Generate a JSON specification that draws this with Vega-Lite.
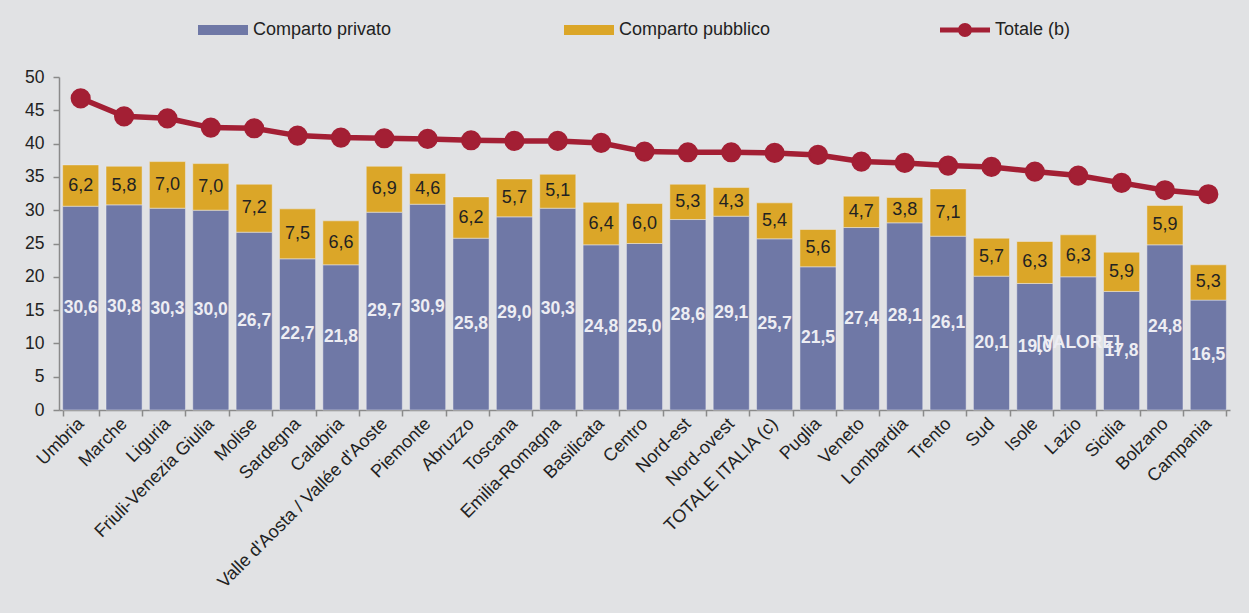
{
  "$schema": "https://vega.github.io/schema/vega-lite/v6.json",
  "width": 1171,
  "height": 333,
  "autosize": {"type": "none"},
  "padding": {"left": 59, "top": 77, "right": 19, "bottom": 203},
  "background": "#e1e2e4",
  "config": {
    "view": {"stroke": null},
    "font": "Liberation Sans",
    "locale": {"number": {"decimal": ",", "thousands": ".", "grouping": [3], "currency": ["", " €"]}},
    "axisY": {
      "title": null,
      "values": [0, 5, 10, 15, 20, 25, 30, 35, 40, 45, 50],
      "labelOverlap": false,
      "grid": false,
      "labelFontSize": 17.5,
      "labelColor": "#222222",
      "labelPadding": 9,
      "domainColor": "#8a8a8a",
      "domainWidth": 1.5,
      "tickColor": "#8a8a8a",
      "tickWidth": 1.5,
      "tickSize": 6
    },
    "legend": {"labelFontSize": 18, "labelColor": "#222222", "labelOffset": 5, "labelLimit": 300, "symbolSize": 2500, "symbolStrokeWidth": 0, "symbolOpacity": 1, "direction": "horizontal", "orient": "none"}
  },
  "data": {
    "values": [
      {"region": "Umbria", "privato": 30.6, "pubblico": 6.2, "totale": 46.8},
      {"region": "Marche", "privato": 30.8, "pubblico": 5.8, "totale": 44.1},
      {"region": "Liguria", "privato": 30.3, "pubblico": 7.0, "totale": 43.8},
      {"region": "Friuli-Venezia Giulia", "privato": 30.0, "pubblico": 7.0, "totale": 42.4},
      {"region": "Molise", "privato": 26.7, "pubblico": 7.2, "totale": 42.3},
      {"region": "Sardegna", "privato": 22.7, "pubblico": 7.5, "totale": 41.2},
      {"region": "Calabria", "privato": 21.8, "pubblico": 6.6, "totale": 40.9},
      {"region": "Valle d'Aosta / Vallée d'Aoste", "privato": 29.7, "pubblico": 6.9, "totale": 40.8},
      {"region": "Piemonte", "privato": 30.9, "pubblico": 4.6, "totale": 40.7},
      {"region": "Abruzzo", "privato": 25.8, "pubblico": 6.2, "totale": 40.5},
      {"region": "Toscana", "privato": 29.0, "pubblico": 5.7, "totale": 40.4},
      {"region": "Emilia-Romagna", "privato": 30.3, "pubblico": 5.1, "totale": 40.4},
      {"region": "Basilicata", "privato": 24.8, "pubblico": 6.4, "totale": 40.1},
      {"region": "Centro", "privato": 25.0, "pubblico": 6.0, "totale": 38.8},
      {"region": "Nord-est", "privato": 28.6, "pubblico": 5.3, "totale": 38.7},
      {"region": "Nord-ovest", "privato": 29.1, "pubblico": 4.3, "totale": 38.7},
      {"region": "TOTALE ITALIA (c)", "privato": 25.7, "pubblico": 5.4, "totale": 38.6},
      {"region": "Puglia", "privato": 21.5, "pubblico": 5.6, "totale": 38.3},
      {"region": "Veneto", "privato": 27.4, "pubblico": 4.7, "totale": 37.3},
      {"region": "Lombardia", "privato": 28.1, "pubblico": 3.8, "totale": 37.1},
      {"region": "Trento", "privato": 26.1, "pubblico": 7.1, "totale": 36.7},
      {"region": "Sud", "privato": 20.1, "pubblico": 5.7, "totale": 36.5},
      {"region": "Isole", "privato": 19.0, "pubblico": 6.3, "totale": 35.8},
      {"region": "Lazio", "privato": 20.0, "pubblico": 6.3, "totale": 35.2},
      {"region": "Sicilia", "privato": 17.8, "pubblico": 5.9, "totale": 34.1},
      {"region": "Bolzano", "privato": 24.8, "pubblico": 5.9, "totale": 33.0},
      {"region": "Campania", "privato": 16.5, "pubblico": 5.3, "totale": 32.4}
    ]
  },
  "encoding": {
    "x": {
      "field": "region",
      "type": "nominal",
      "sort": ["Umbria", "Marche", "Liguria", "Friuli-Venezia Giulia", "Molise", "Sardegna", "Calabria", "Valle d'Aosta / Vallée d'Aoste", "Piemonte", "Abruzzo", "Toscana", "Emilia-Romagna", "Basilicata", "Centro", "Nord-est", "Nord-ovest", "TOTALE ITALIA (c)", "Puglia", "Veneto", "Lombardia", "Trento", "Sud", "Isole", "Lazio", "Sicilia", "Bolzano", "Campania"],
      "scale": {"paddingInner": 0.168, "paddingOuter": 0.084},
      "axis": {
        "title": null,
        "labelAngle": -45,
        "labelAlign": "right",
        "labelBaseline": "middle",
        "labelFontSize": 18,
        "labelColor": "#222222",
        "labelPadding": 5,
        "labelLimit": 400,
        "domainColor": "#8a8a8a",
        "domainWidth": 1.5,
        "tickColor": "#8a8a8a",
        "tickWidth": 1.5,
        "tickSize": 6,
        "tickBand": "extent"
      }
    }
  },
  "layer": [
    {
      "transform": [{"fold": ["privato", "pubblico"], "as": ["key", "value"]}],
      "mark": {"type": "bar", "stroke": "#ececf0", "strokeWidth": 0.8, "strokeOpacity": 0.6},
      "encoding": {
        "y": {
          "field": "value",
          "type": "quantitative",
          "stack": "zero",
          "scale": {"domain": [0, 50], "nice": false},
          "axis": {"values": [0, 5, 10, 15, 20, 25, 30, 35, 40, 45, 50], "labelOverlap": false, "tickCount": 11}
        },
        "order": {"field": "key", "type": "nominal", "sort": "ascending"},
        "color": {
          "field": "key",
          "type": "nominal",
          "scale": {"domain": ["privato", "pubblico"], "range": ["#6f78a6", "#dba628"]},
          "legend": {
            "legendX": 139,
            "legendY": -72,
            "title": null,
            "symbolType": "M-1,-0.2H1V0.2H-1Z",
            "columnPadding": 172,
            "labelExpr": "datum.value === 'privato' ? 'Comparto privato' : 'Comparto pubblico'"
          }
        }
      }
    },
    {
      "transform": [{"fold": ["privato", "pubblico"], "as": ["key", "value"]}],
      "mark": {"type": "text", "fontSize": 17.5, "fontWeight": "bold", "color": "#ededf3"},
      "encoding": {
        "y": {"field": "value", "type": "quantitative", "stack": "zero", "bandPosition": 0.5, "axis": {"values": [0, 5, 10, 15, 20, 25, 30, 35, 40, 45, 50], "labelOverlap": false, "tickCount": 11}},
        "detail": {"field": "key"},
        "order": {"field": "key", "type": "nominal", "sort": "ascending"},
        "text": {
          "condition": {"test": "datum.region === 'Lazio'", "value": "[VALORE]"},
          "field": "value",
          "type": "quantitative",
          "format": ".1f"
        },
        "opacity": {"condition": {"test": "datum.key === 'privato'", "value": 1}, "value": 0}
      }
    },
    {
      "transform": [{"fold": ["privato", "pubblico"], "as": ["key", "value"]}],
      "mark": {"type": "text", "fontSize": 18, "color": "#222222"},
      "encoding": {
        "y": {"field": "value", "type": "quantitative", "stack": "zero", "bandPosition": 0.5, "axis": {"values": [0, 5, 10, 15, 20, 25, 30, 35, 40, 45, 50], "labelOverlap": false, "tickCount": 11}},
        "detail": {"field": "key"},
        "order": {"field": "key", "type": "nominal", "sort": "ascending"},
        "text": {"field": "value", "type": "quantitative", "format": ".1f"},
        "opacity": {"condition": {"test": "datum.key === 'pubblico'", "value": 1}, "value": 0}
      }
    },
    {
      "mark": {"type": "line", "strokeWidth": 5.5, "strokeJoin": "round", "point": {"filled": true, "size": 330, "opacity": 1, "color": "#a31f34"}},
      "encoding": {
        "y": {"field": "totale", "type": "quantitative", "axis": {"values": [0, 5, 10, 15, 20, 25, 30, 35, 40, 45, 50], "labelOverlap": false, "tickCount": 11}},
        "stroke": {
          "datum": "Totale (b)",
          "scale": {"range": ["#a31f34"]},
          "legend": {
            "legendX": 881,
            "legendY": -72,
            "title": null,
            "symbolType": "M-1,-0.1H1V0.1H-1Z M0.28,0A0.28,0.28,0,1,1,-0.28,0A0.28,0.28,0,1,1,0.28,0Z",
            "symbolFillColor": "#a31f34",
            "symbolStrokeWidth": 0
          }
        }
      }
    }
  ]
}
